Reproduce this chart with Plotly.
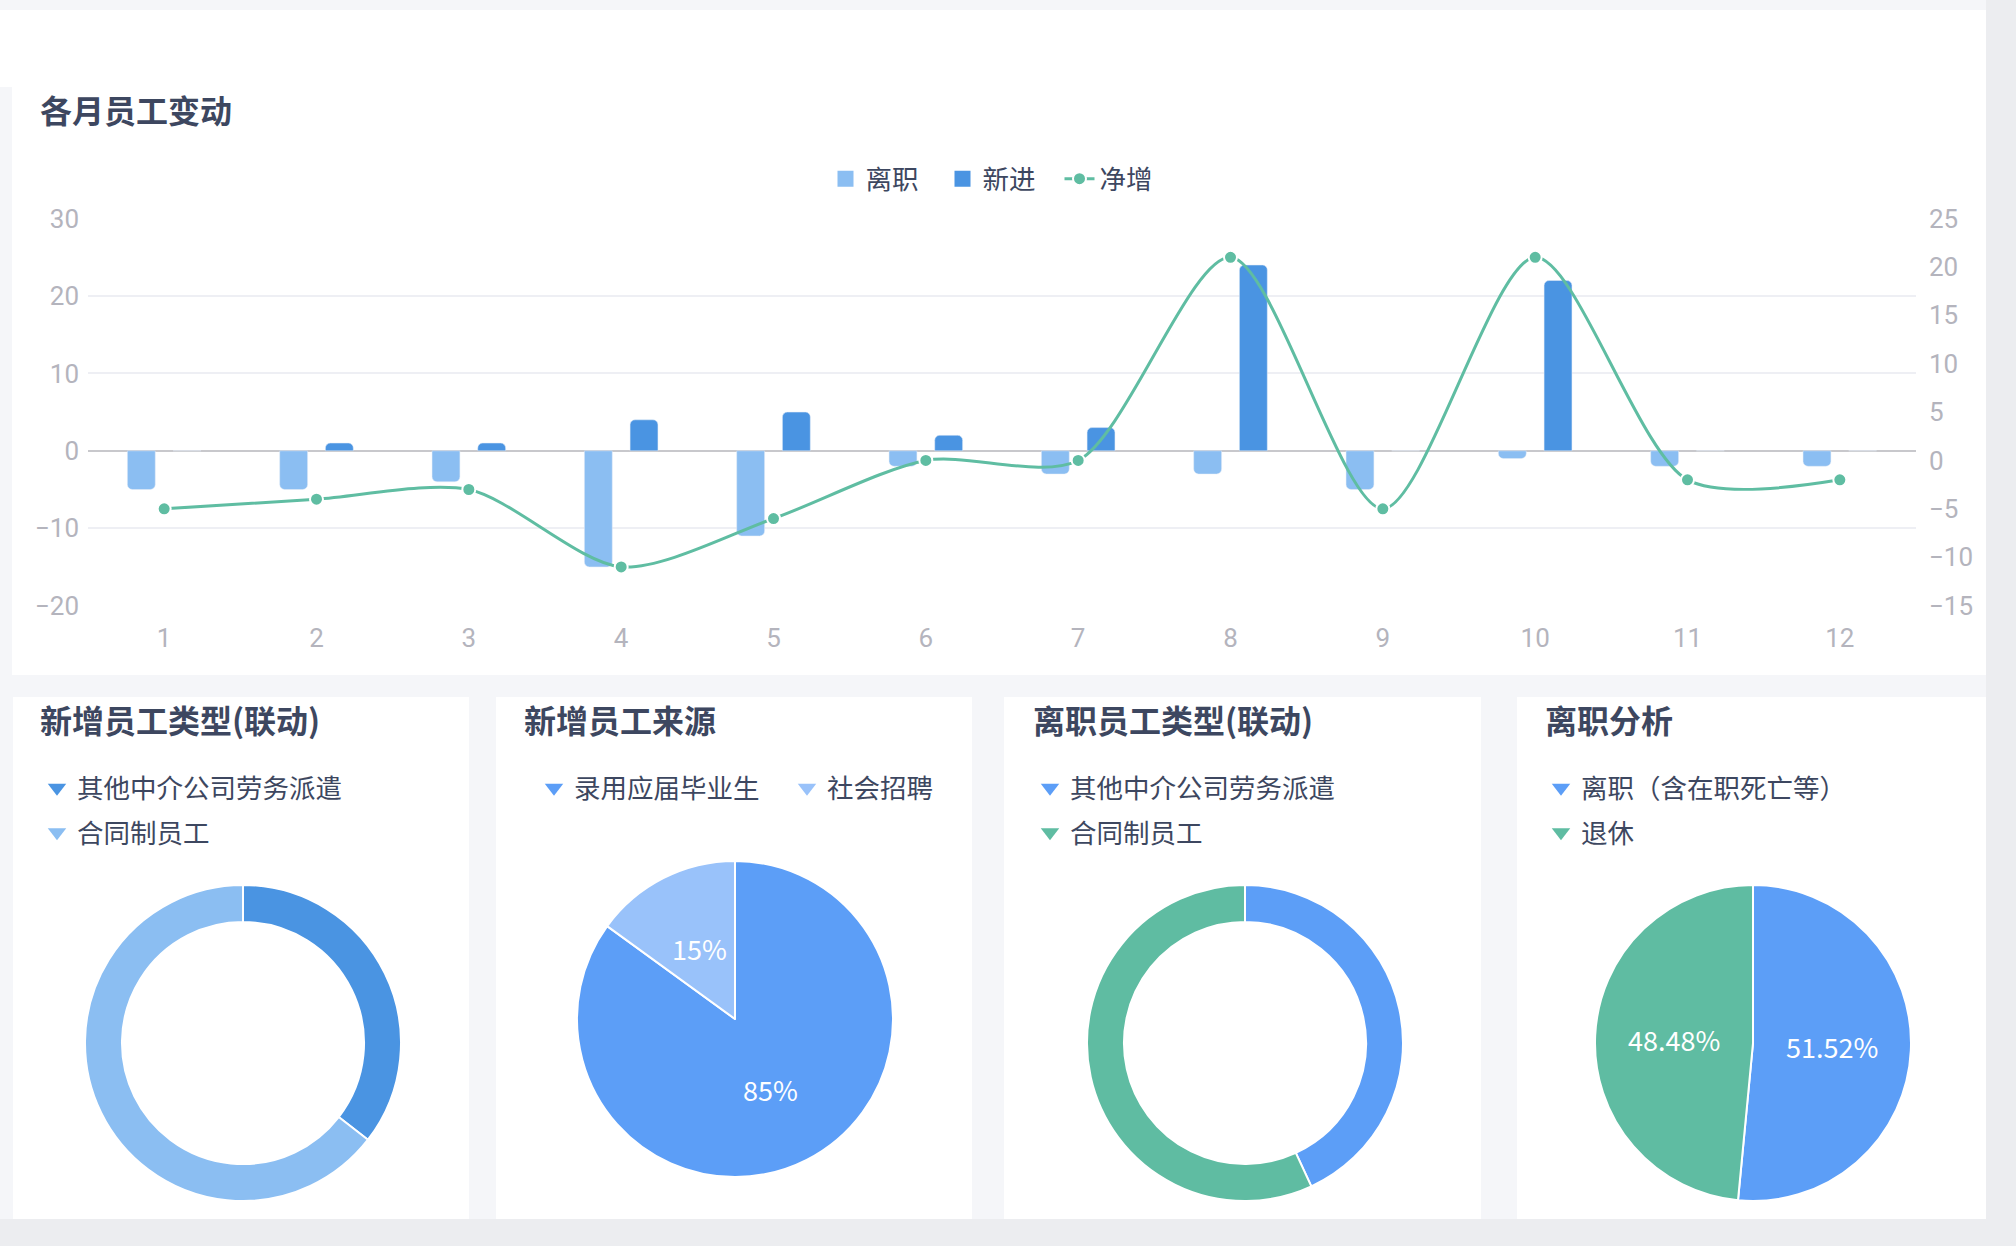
import math
import plotly.graph_objects as go

W, H = 2016, 1246

# ---- data ----
months = list(range(1, 13))
quit_vals = [-5, -5, -4, -15, -11, -2, -3, -3, -5, -1, -2, -2]
hire_vals = [0, 1, 1, 4, 5, 2, 3, 24, 0, 22, 0, 0]
net_vals = [-5, -4, -3, -11, -6, 0, 0, 21, -5, 21, -2, -2]

new_type_labels = ['其他中介公司劳务派遣', '合同制员工']
new_type_vals = [22, 40]
new_src_labels = ['录用应届毕业生', '社会招聘']
new_src_vals = [85, 15]
quit_type_labels = ['其他中介公司劳务派遣', '合同制员工']
quit_type_vals = [25, 33]
quit_reason_labels = ['离职（含在职死亡等）', '退休']
quit_reason_vals = [17, 16]

left_ticks = [-20, -10, 0, 10, 20, 30]
right_ticks = [-15, -10, -5, 0, 5, 10, 15, 20, 25]

FONT = 'Noto Sans CJK SC'
DARK = '#3d4760'
TICK = '#b4b4bd'
C_QUIT, C_HIRE, C_NET = '#8bbef2', '#4a94e2', '#5fbda2'


def px(x):
    return x / W


def py(y):
    return 1 - y / H


fig = go.Figure()

# bars: legend entries are drawn by the square markers below (bigger icons)
fig.add_trace(go.Bar(x=months, y=quit_vals, name='离职', legendgroup='quit', showlegend=False,
                     marker=dict(color=C_QUIT, cornerradius=5)))
fig.add_trace(go.Bar(x=months, y=hire_vals, name='新进', legendgroup='hire', showlegend=False,
                     marker=dict(color=C_HIRE, cornerradius=5)))
for name, grp, c in [('离职', 'quit', C_QUIT), ('新进', 'hire', C_HIRE)]:
    fig.add_trace(go.Scatter(x=[None], y=[None], mode='markers', name=name, legendgroup=grp,
                             marker=dict(symbol='square', size=22, color=c), hoverinfo='skip'))
fig.add_trace(go.Scatter(x=months, y=net_vals, name='净增', yaxis='y2', legendgroup='net',
                         mode='lines+markers',
                         line=dict(color=C_NET, width=3, shape='spline', smoothing=0.8),
                         marker=dict(size=13, color=C_NET, line=dict(color='white', width=2))))

# pies: (labels, values, colors, centre x, centre y, hole, label format)
pies = [
    (new_type_labels, new_type_vals, ['#4a94e2', '#8bbef2'], 243, 1043, 0.766, None),
    (new_src_labels, new_src_vals, ['#5c9ef7', '#99c2fa'], 735, 1019, 0, '{:.0%}'),
    (quit_type_labels, quit_type_vals, ['#5c9ef7', '#5fbca2'], 1245, 1043, 0.766, None),
    (quit_reason_labels, quit_reason_vals, ['#5c9ef7', '#5fbca2'], 1753, 1043, 0, '{:.2%}'),
]
R = 158
annotations = []
for labels, vals, cols, cx, cy, hole, fmt in pies:
    fig.add_trace(go.Pie(
        labels=labels, values=vals, hole=hole, sort=False, direction='clockwise', rotation=0,
        marker=dict(colors=cols, line=dict(color='white', width=2)),
        domain=dict(x=[px(cx - R), px(cx + R)], y=[py(cy + R), py(cy - R)]),
        textinfo='none', showlegend=False, hoverinfo='label+percent'))
    if fmt is None:
        continue
    # percentage labels sit half way out along each slice's middle angle
    total = sum(vals)
    start = 0
    for v in vals:
        mid = 2 * math.pi * (start + v / 2) / total
        start += v
        annotations.append(dict(
            text=fmt.format(v / total), xref='paper', yref='paper', showarrow=False,
            x=px(cx + 0.5 * R * math.sin(mid)), y=py(cy - 0.5 * R * math.cos(mid)),
            xanchor='center', yanchor='middle',
            font=dict(color='white', size=27, family=FONT)))

# legend entries for the pie cards
legend_names = ['legend2', 'legend3', 'legend4', 'legend5']
k = 0
for (labels, vals, cols, cx, cy, hole, fmt), lg in zip(pies, legend_names):
    for lab, c in zip(labels, cols):
        fig.add_trace(go.Scatter(x=[None], y=[None], mode='markers', name=lab,
                                 marker=dict(symbol='triangle-down', size=18, color=c),
                                 legend=lg, legendgroup='g%d' % k, hoverinfo='skip'))
        k += 1

# cards
shapes = []


def rect(x0, y0, x1, y1, color):
    shapes.append(dict(type='rect', xref='paper', yref='paper', layer='below',
                       x0=px(x0), x1=px(x1), y0=py(y1), y1=py(y0),
                       fillcolor=color, line=dict(width=0)))


rect(1986, 0, W, H, '#ecedf0')
rect(0, 1219, W, H, '#ecedf0')
rect(0, 10, 1986, 87, 'white')
rect(12, 87, 1986, 675, 'white')
rect(13, 697, 469, 1219, 'white')
rect(496, 697, 972, 1219, 'white')
rect(1004, 697, 1481, 1219, 'white')
rect(1517, 697, 1986, 1219, 'white')

titles = [('各月员工变动', 38, 109.5), ('新增员工类型(联动)', 38, 718.5),
          ('新增员工来源', 522, 718.5), ('离职员工类型(联动)', 1031, 718.5),
          ('离职分析', 1543, 718.5)]
annotations += [dict(text='<b>%s</b>' % t, x=px(x), y=py(y), xref='paper', yref='paper',
                     xanchor='left', yanchor='middle', showarrow=False,
                     font=dict(size=32, color=DARK, family=FONT)) for t, x, y in titles]

leg_font = dict(size=26.5, color=DARK, family=FONT)
tick_font = dict(size=26, color=TICK, family='Roboto')
fig.update_layout(
    width=W, height=H, margin=dict(l=0, r=0, t=0, b=0, autoexpand=False),
    paper_bgcolor='#f5f6f9', plot_bgcolor='rgba(0,0,0,0)',
    font=dict(family=FONT, color=DARK),
    shapes=shapes, annotations=annotations,
    barmode='group', bargap=0.4, bargroupgap=0.39,
    xaxis=dict(domain=[px(88), px(1916)], range=[0.5, 12.5], tickvals=months,
               showgrid=False, zeroline=False, showline=False, ticks='',
               tickfont=tick_font, ticklabelstandoff=14),
    yaxis=dict(domain=[py(605.6), py(218.6)], range=[-20, 30], tickvals=left_ticks,
               gridcolor='#eeeff4', gridwidth=1.5, zeroline=True, zerolinecolor='#c8c8cc',
               zerolinewidth=2, ticks='', showline=False,
               tickfont=tick_font, ticklabelstandoff=8),
    yaxis2=dict(overlaying='y', side='right', range=[-15, 25], tickvals=right_ticks,
                showgrid=False, zeroline=False, ticks='', showline=False,
                tickfont=tick_font, ticklabelstandoff=12),
    legend=dict(orientation='h', x=px(1001), xanchor='center', y=py(179), yanchor='middle',
                font=leg_font, bgcolor='rgba(0,0,0,0)', traceorder='normal', entrywidth=72),
    legend2=dict(x=px(37), y=py(764), xanchor='left', yanchor='top', font=leg_font,
                 tracegroupgap=7, bgcolor='rgba(0,0,0,0)'),
    legend3=dict(orientation='h', x=px(534), y=py(764), xanchor='left', yanchor='top',
                 font=leg_font, entrywidth=208, bgcolor='rgba(0,0,0,0)'),
    legend4=dict(x=px(1030), y=py(764), xanchor='left', yanchor='top', font=leg_font,
                 tracegroupgap=7, bgcolor='rgba(0,0,0,0)'),
    legend5=dict(x=px(1541), y=py(764), xanchor='left', yanchor='top', font=leg_font,
                 tracegroupgap=7, bgcolor='rgba(0,0,0,0)'),
)

fig.write_html('out.html', config={'displayModeBar': False},
               post_script="document.body.style.margin='0';document.body.style.overflow='hidden';")
